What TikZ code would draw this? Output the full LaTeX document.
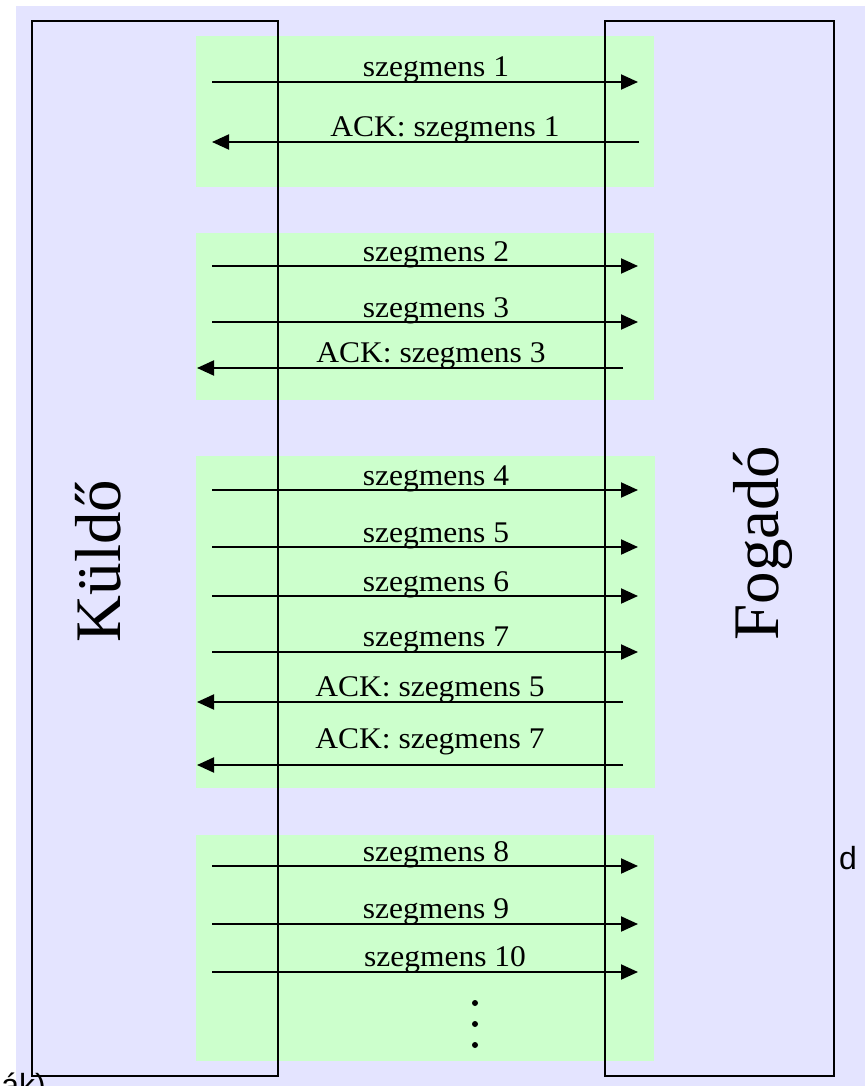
\documentclass[tikz,border=0pt]{standalone}
\usepackage{fontspec}
\setmainfont{Liberation Serif}
\newfontfamily\sansfam{Liberation Sans}
\usetikzlibrary{arrows.meta}
\definecolor{lav}{RGB}{228,228,255}
\definecolor{grn}{RGB}{204,255,204}
\tikzset{
  grpbox/.style={fill=grn, draw=none},
  endbox/.style={draw=black, line width=2.2pt},
  msg/.style={line width=2pt, -{Triangle[length=17pt,width=15pt]}},
  lbl/.style={font=\fontsize{30}{32}\selectfont, anchor=base, inner sep=0pt, xscale=1.05},
  side/.style={font=\fontsize{65}{70}\selectfont, anchor=base, inner sep=0pt, rotate=90},
  stray/.style={font=\sansfam\fontsize{32}{34}\selectfont, inner sep=0pt},
  dot/.style={circle, fill=black, inner sep=0pt, minimum size=6pt}
}
\begin{document}
\begin{tikzpicture}[x=1pt,y=-1pt]
\useasboundingbox (0,0) rectangle (865,1086);
\fill[white] (0,0) rectangle (865,1086);
\fill[lav] (16,6) rectangle (865,1086);
% stray text fragments
\node[stray, anchor=base east] (frag1) at (46,1096) {ák)};
\node[stray, anchor=base west] (frag2) at (839,869) {d};
% group boxes
\fill[grpbox] (196,36) rectangle (654,187);
\fill[grpbox] (196,233) rectangle (654,400);
\fill[grpbox] (196,456) rectangle (655,788);
\fill[grpbox] (196,835) rectangle (654,1061);
% sender / receiver
\draw[endbox] (32,21) rectangle (278,1076);
\draw[endbox] (605,21) rectangle (834,1076);
\node[side] (kuldo) at (120,561) {Küldő};
\node[side] (fogado) at (778,543) {Fogadó};
% coordinates
\foreach \n/\y in {s1/82,s2/266,s3/322,s4/490,s5/547,s6/596,s7/652,s8/866,s9/924,s10/972}{
  \coordinate (\n L) at (212,\y);
  \coordinate (\n R) at (638,\y);
}
\coordinate (a1R) at (639,142); \coordinate (a1L) at (212,142);
\coordinate (a3R) at (623,368); \coordinate (a3L) at (197,368);
\coordinate (a5R) at (623,702); \coordinate (a5L) at (197,702);
\coordinate (a7R) at (623,765); \coordinate (a7L) at (197,765);
% labels
\node[lbl] (t1) at (436,77) {szegmens 1};
\node[lbl] (ta1) at (445,137) {ACK: szegmens 1};
\node[lbl] (t2) at (436,261) {szegmens 2};
\node[lbl] (t3) at (436,317) {szegmens 3};
\node[lbl] (ta3) at (431,362) {ACK: szegmens 3};
\node[lbl] (t4) at (436,485) {szegmens 4};
\node[lbl] (t5) at (436,542) {szegmens 5};
\node[lbl] (t6) at (436,591) {szegmens 6};
\node[lbl] (t7) at (436,646) {szegmens 7};
\node[lbl] (ta5) at (430,696) {ACK: szegmens 5};
\node[lbl] (ta7) at (430,748) {ACK: szegmens 7};
\node[lbl] (t8) at (436,861) {szegmens 8};
\node[lbl] (t9) at (436,918) {szegmens 9};
\node[lbl] (t10) at (445,966) {szegmens 10};
% arrows
\foreach \n in {s1,s2,s3,s4,s5,s6,s7,s8,s9,s10}{
  \draw[msg] (\n L) -- (\n R);
}
\foreach \n in {a1,a3,a5,a7}{
  \draw[msg] (\n R) -- (\n L);
}
% continuation dots
\node[dot] (d1) at (475,1003) {};
\node[dot] (d2) at (475,1024) {};
\node[dot] (d3) at (475,1045) {};
\end{tikzpicture}
\end{document}
